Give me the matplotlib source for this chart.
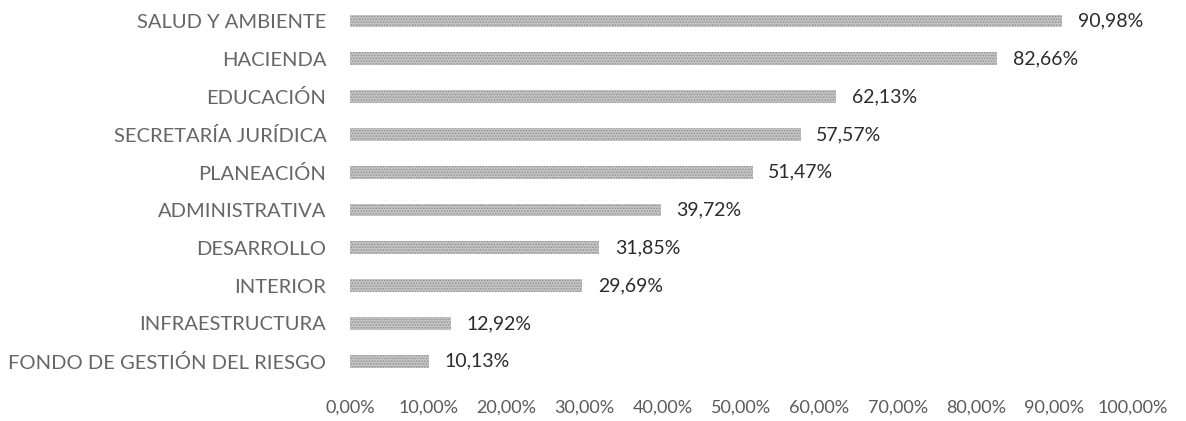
import numpy as np
import matplotlib
matplotlib.use("Agg")
import matplotlib.pyplot as plt
from matplotlib.ticker import FuncFormatter

# datos (de abajo hacia arriba)
areas = [
    "FONDO DE GESTIÓN DEL RIESGO",
    "INFRAESTRUCTURA",
    "INTERIOR",
    "DESARROLLO",
    "ADMINISTRATIVA",
    "PLANEACIÓN",
    "SECRETARÍA JURÍDICA",
    "EDUCACIÓN",
    "HACIENDA",
    "SALUD Y AMBIENTE",
]
avance = [10.13, 12.92, 29.69, 31.85, 39.72, 51.47, 57.57, 62.13, 82.66, 90.98]

BAR = "#c4c4c4"
HATCH = "#8f8f8f"
TXT = "#2b2b2b"

plt.rcParams["font.family"] = ["Lato", "DejaVu Sans"]
plt.rcParams["hatch.linewidth"] = 0.7
plt.rcParams["hatch.color"] = HATCH

fig = plt.figure(figsize=(11.86, 4.21), dpi=100, facecolor="white")
ax = fig.add_axes([0.295, 0.097, 0.66, 0.898])

y = np.arange(len(areas))
ax.barh(y, avance, height=0.34, color=BAR, hatch="......", linewidth=0)

for yi, v in zip(y, avance):
    ax.text(v + 2.0, yi, f"{v:.2f}%".replace(".", ","), va="center", ha="left",
            fontsize=14, color=TXT)

ax.set_xlim(0, 100)
ax.set_ylim(-0.5, len(areas) - 0.5)
ax.set_yticks(y)
ax.set_yticklabels(areas, fontsize=14.5, color="#666666")
ax.set_xticks(np.arange(0, 101, 10))
ax.xaxis.set_major_formatter(FuncFormatter(lambda v, _: f"{v:.2f}%".replace(".", ",")))
ax.tick_params(axis="x", labelsize=13, labelcolor="#5a5a5a", length=0, pad=14)
ax.tick_params(axis="y", length=0, pad=17)

for s in ax.spines.values():
    s.set_visible(False)

fig.savefig("out.png", dpi=100, facecolor="white")
